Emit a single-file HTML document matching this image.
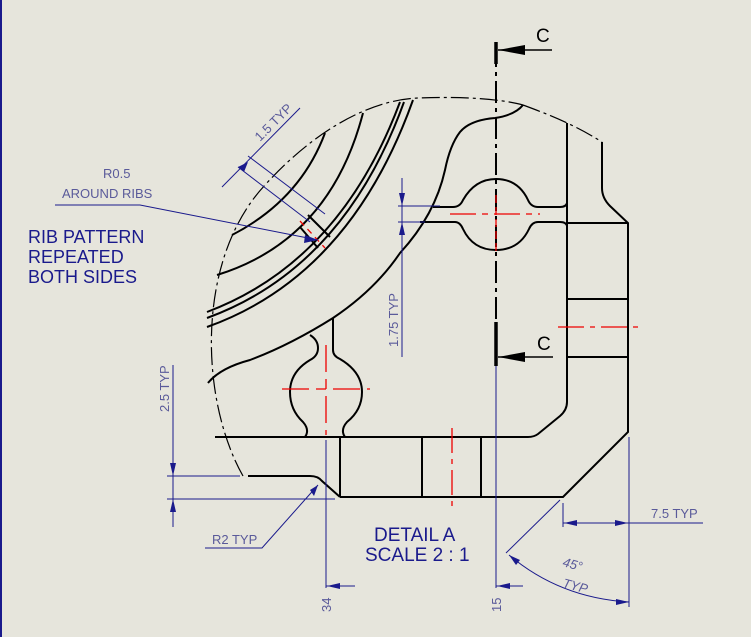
<!DOCTYPE html>
<html><head><meta charset="utf-8"><style>
html,body{margin:0;padding:0;background:#e6e5dc;}
svg{display:block;}
text{font-family:"Liberation Sans",sans-serif;}
</style></head><body>
<svg width="751" height="637" viewBox="0 0 751 637" xmlns="http://www.w3.org/2000/svg">
<rect width="751" height="637" fill="#e6e5dc"/>
<line x1="1" y1="0" x2="1" y2="637" stroke="#1a1a8c" stroke-width="2"/>
<path d="M243,476 C200,400 195,260 265,185 C315,130 370,100 418,98 C470,96 505,100 523,105" fill="none" stroke="#000" stroke-width="1.2" stroke-dasharray="18,4,3,4"/>
<path d="M523,105 C550,115 575,125 602,142" fill="none" stroke="#000" stroke-width="1.2" stroke-dasharray="18,4,3,4"/>
<g fill="none" stroke="#000" stroke-width="2">
<path d="M602,142 L602,188 Q602,198 610,206 L628,223 L628,432 L563,497 L340,497"/>
<path d="M567,123 L567,402 Q567,410 560,416 L538,434 Q534,437 528,437 L215,437"/>
<line x1="567" y1="223" x2="628" y2="223"/>
<line x1="567" y1="299" x2="628" y2="299"/>
<line x1="567" y1="357" x2="628" y2="357"/>
<line x1="340" y1="437" x2="340" y2="497"/>
<line x1="422" y1="437" x2="422" y2="497"/>
<line x1="481" y1="437" x2="481" y2="497"/>
<path d="M248,476 L310,476 Q318,476 322,481 L340,497"/>
<path d="M433,207 L453,207 Q460,207 463,200 Q475,179 496,179 Q518,179 528,200 Q531,207 538,207 L560,207 Q566,207 567,203"/>
<path d="M420,222 L455,222 Q460,222 463,229 Q473,250 496,250 Q519,250 529,229 Q532,222 538,222 L560,222 Q566,222 567,226"/>
<path d="M523,105 Q515,115 495,118 Q470,120 460,132 Q450,145 445,170 Q435,215 400,253 Q375,290 333,318 Q290,345 250,360 Q220,368 208,383"/>
<line x1="333" y1="318" x2="333" y2="350"/>
<path d="M333,350 Q333,356 340,359 Q362,372 362,392 Q362,410 347,422 Q340,430 345,437"/>
<path d="M310,335 Q318,340 318,348 Q318,356 310,360 Q290,372 290,392 Q290,410 303,422 Q310,430 305,437"/>
<path d="M207,312 Q340,262 400,102"/>
<path d="M207,318 Q344,268 404,102"/>
<path d="M207,327 Q350,276 413,100"/>
<path d="M232,235 Q300,200 325,133"/>
<path d="M217,275 Q330,240 363,113"/>
<path d="M300,227 L318,248 M308,215 L330,237"/>
</g>
<path d="M496,45 L496,340" stroke="#000" stroke-width="2" stroke-dasharray="22,5,4,5" fill="none"/>
<g stroke="#000" stroke-width="3.5"><line x1="496" y1="42" x2="496" y2="64"/><line x1="496" y1="322" x2="496" y2="366"/></g>
<g stroke="#000" stroke-width="1.5"><line x1="498" y1="50" x2="552" y2="50"/><line x1="498" y1="357" x2="553" y2="357"/></g>
<polygon points="498,50 525,45 525,55" fill="#000"/>
<polygon points="498,357 525,352 525,362" fill="#000"/>
<text x="536" y="42" font-size="19" fill="#000">C</text>
<text x="537" y="350" font-size="19" fill="#000">C</text>
<g stroke="#e00" stroke-width="1.3" fill="none">
<path d="M450,214 L540,214" stroke-dasharray="26,6,6,6"/>
<path d="M496,195 L496,255" stroke-dasharray="8,4"/>
<path d="M282,389 L370,389" stroke-dasharray="27,7,10,7"/>
<path d="M326,345 L326,435" stroke-dasharray="27,7,10,7"/>
<path d="M558,327 L638,327" stroke-dasharray="26,6,5,6"/>
<path d="M452,428 L452,508" stroke-dasharray="25,6,5,6"/>
<path d="M300,221 L325,248" stroke-dasharray="6,5"/>
</g>
<g stroke="#1a1a8c" stroke-width="1" fill="none">
<line x1="222" y1="187" x2="300" y2="108"/>
<line x1="238" y1="167" x2="310" y2="222"/>
<line x1="248" y1="156" x2="325" y2="214"/>
<polyline points="55,205 140,205 318,240"/>
<line x1="402" y1="178" x2="402" y2="357"/>
<line x1="398" y1="206" x2="440" y2="206"/>
<line x1="398" y1="222" x2="425" y2="222"/>
<line x1="173" y1="365" x2="173" y2="527"/>
<line x1="167" y1="476" x2="240" y2="476"/>
<line x1="167" y1="499" x2="335" y2="499"/>
<polyline points="205,548 262,548 318,485"/>
<line x1="326" y1="440" x2="326" y2="588"/>
<line x1="326" y1="586" x2="355" y2="586"/>
<line x1="496" y1="366" x2="496" y2="588"/>
<line x1="496" y1="586" x2="523" y2="586"/>
<line x1="563" y1="503" x2="563" y2="527"/>
<line x1="629" y1="437" x2="629" y2="607"/>
<line x1="563" y1="523" x2="703" y2="523"/>
<line x1="506" y1="553" x2="560" y2="500"/>
<path d="M509,555 Q560,598 629,602"/>
</g>
<g fill="#1a1a8c">
<polygon points="238,167 248,162 244,172"/><polygon points="252,153 258,148 246,158"/>
<polygon points="318,240 305,235 304,243"/>
<polygon points="402,206 399,193 405,193"/><polygon points="402,222 399,235 405,235"/>
<polygon points="173,476 170,463 176,463"/><polygon points="173,499 170,512 176,512"/>
<polygon points="318,485 310,490 314,496"/>
<polygon points="327,586 340,583 340,589"/><polygon points="497,586 510,583 510,589"/>
<polygon points="564,523 577,520 577,526"/><polygon points="628,523 615,520 615,526"/>
<polygon points="509,555 520,560 516,565"/><polygon points="629,602 616,599 616,605"/>
</g>
<g fill="#5a5a9a" font-size="13">
<text transform="translate(260,142) rotate(-45)">1.5 TYP</text>
<text x="103" y="178">R0.5</text>
<text x="62" y="198">AROUND RIBS</text>
<text transform="translate(398,347) rotate(-90)">1.75 TYP</text>
<text transform="translate(169,412) rotate(-90)">2.5 TYP</text>
<text x="212" y="544">R2 TYP</text>
<text transform="translate(331,612) rotate(-90)">34</text>
<text transform="translate(501,612) rotate(-90)">15</text>
<text x="651" y="518">7.5 TYP</text>
<text transform="translate(562,566) rotate(15)" font-style="italic">45°</text>
<text transform="translate(562,587) rotate(15)" font-style="italic">TYP</text>
</g>
<g fill="#1a1a8c" font-size="18">
<text x="28" y="243">RIB PATTERN</text>
<text x="28" y="263">REPEATED</text>
<text x="28" y="283">BOTH SIDES</text>
<text x="374" y="541" font-size="19">DETAIL A</text>
<text x="365" y="561" font-size="19">SCALE 2 : 1</text>
</g>
</svg>
</body></html>
